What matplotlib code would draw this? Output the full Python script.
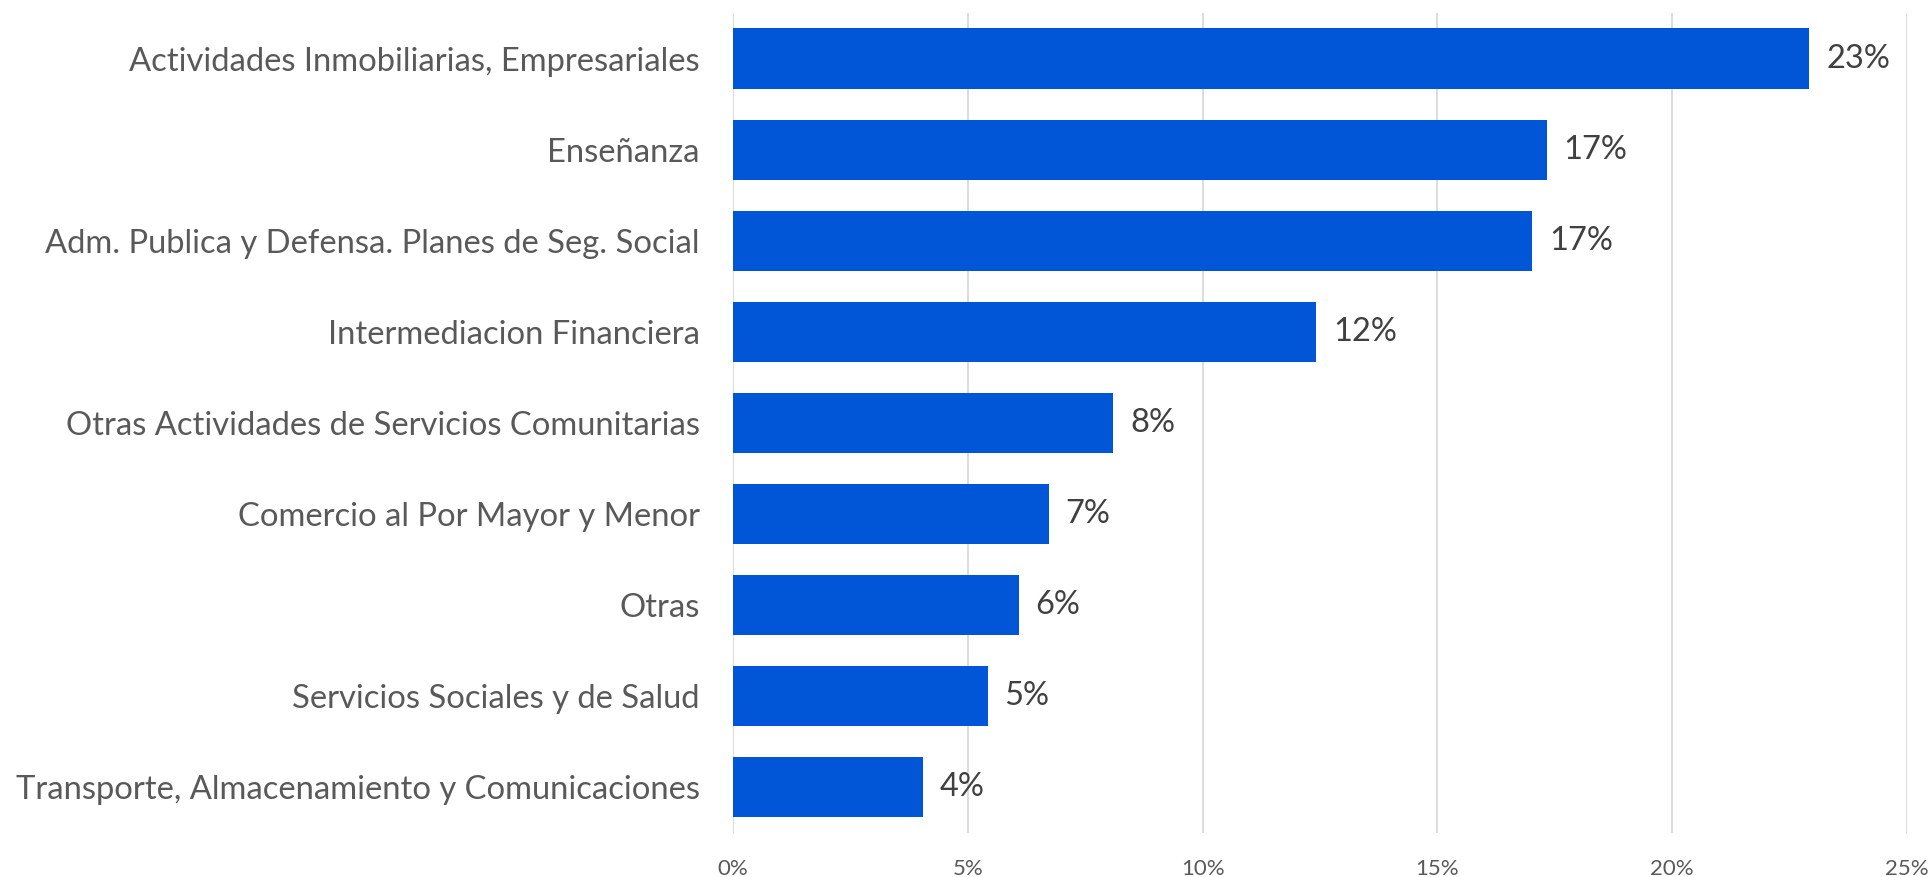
import matplotlib
matplotlib.use("Agg")
import matplotlib.pyplot as plt
from matplotlib.ticker import FuncFormatter, MultipleLocator

# data (share of total, in %)
categories = [
    "Actividades Inmobiliarias, Empresariales",
    "Enseñanza",
    "Adm. Publica y Defensa. Planes de Seg. Social",
    "Intermediacion Financiera",
    "Otras Actividades de Servicios Comunitarias",
    "Comercio al Por Mayor y Menor",
    "Otras",
    "Servicios Sociales y de Salud",
    "Transporte, Almacenamiento y Comunicaciones",
]
shares = [22.92, 17.33, 17.02, 12.42, 8.10, 6.73, 6.08, 5.42, 4.04]
value_labels = ["23%", "17%", "17%", "12%", "8%", "7%", "6%", "5%", "4%"]

plt.rcParams['font.family'] = ['Lato', 'DejaVu Sans']

fig = plt.figure(figsize=(19.33, 8.77), dpi=100)
ax = fig.add_axes([0.3792, 0.0502, 0.9866 - 0.3792, 0.9852 - 0.0502])

ypos = list(range(len(categories)))
bars = ax.barh(ypos, shares, height=0.66, color="#0056D6", zorder=3)

#value labels at the end of each bar
for bar, lab in zip(bars, value_labels):
    ax.annotate(lab, (bar.get_width(), bar.get_y() + bar.get_height() / 2),
                xytext=(12, 0), textcoords="offset points",
                va="center", ha="left", fontsize=23.5, color="#404040")

ax.set_yticks(ypos)
ax.set_yticklabels(categories, fontsize=23.6, color="#595959")
ax.set_ylim(len(categories) - 0.5, -0.5)
ax.set_xlim(0, 25)
ax.xaxis.set_major_locator(MultipleLocator(5))
ax.xaxis.set_major_formatter(FuncFormatter(lambda v, p: f"{v:.0f}%"))
ax.tick_params(axis="x", labelsize=16, labelcolor="#595959", length=0, pad=19)
ax.tick_params(axis="y", length=0, pad=24)

ax.grid(axis="x", color="#D9D9D9", linewidth=1.3, zorder=0)
for s in ax.spines.values():
    s.set_visible(False)

plt.savefig("out.png", dpi=100)
